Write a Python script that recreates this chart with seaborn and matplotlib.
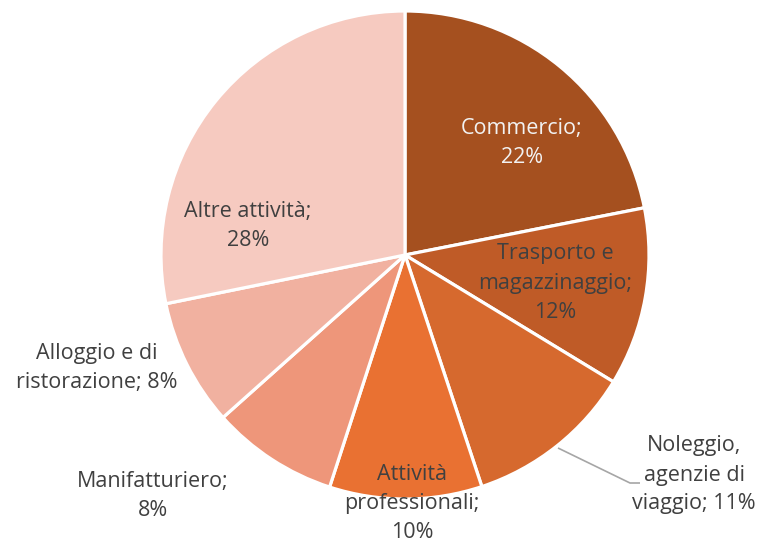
import matplotlib
matplotlib.use("Agg")
import matplotlib.pyplot as plt
import seaborn as sns

sns.set_theme(style="white")
plt.rcParams['font.family'] = ['Open Sans', 'DejaVu Sans']

categories = ["Commercio", "Trasporto e\nmagazzinaggio", "Noleggio,\nagenzie di\nviaggio",
              "Attività\nprofessionali", "Manifatturiero", "Alloggio e di\nristorazione",
              "Altre attività"]
label_texts = ["Commercio;\n22%", "Trasporto e\nmagazzinaggio;\n12%", "Noleggio,\nagenzie di\nviaggio; 11%",
               "Attività\nprofessionali;\n10%", "Manifatturiero;\n8%", "Alloggio e di\nristorazione; 8%",
               "Altre attività;\n28%"]
values = [21.9, 11.8, 11.2, 10.1, 8.4, 8.4, 28.2]
colors = ["#A5501F", "#BF5B27", "#D6692E", "#E97132", "#EE967A", "#F1B1A0", "#F6CAC0"]

W, H = 762, 546
fig = plt.figure(figsize=(W / 100, H / 100), dpi=100)
ax = fig.add_axes([0, 0, 1, 1])
ax.set_xlim(0, W)
ax.set_ylim(0, H)
ax.axis("off")

cx, cy, R = 405, H - 255, 244
ax.pie(values, colors=colors, startangle=90, counterclock=False,
       center=(cx, cy), radius=R,
       wedgeprops=dict(edgecolor="white", linewidth=2.3))
ax.set_xlim(0, W)
ax.set_ylim(0, H)
ax.set_aspect("equal")

# label positions in pixel coordinates (from top-left)
label_pos = [(522, 143), (555, 283), (694, 475), (412, 504), (153, 496), (97, 368), (248, 226)]
text_colors = ["#F2F2F2", "#404040", "#404040", "#404040", "#404040", "#404040", "#404040"]
for txt, (px, py), tc in zip(label_texts, label_pos, text_colors):
    ax.text(px, H - py, txt, ha="center", va="center", fontsize=15.5, color=tc,
            linespacing=1.5)

# leader line for Noleggio
ax.plot([558, 630, 640], [H - 448, H - 483, H - 483], color="#A6A6A6", lw=1.2,
        solid_capstyle="butt")

fig.savefig("out.png", dpi=100, facecolor="white")
